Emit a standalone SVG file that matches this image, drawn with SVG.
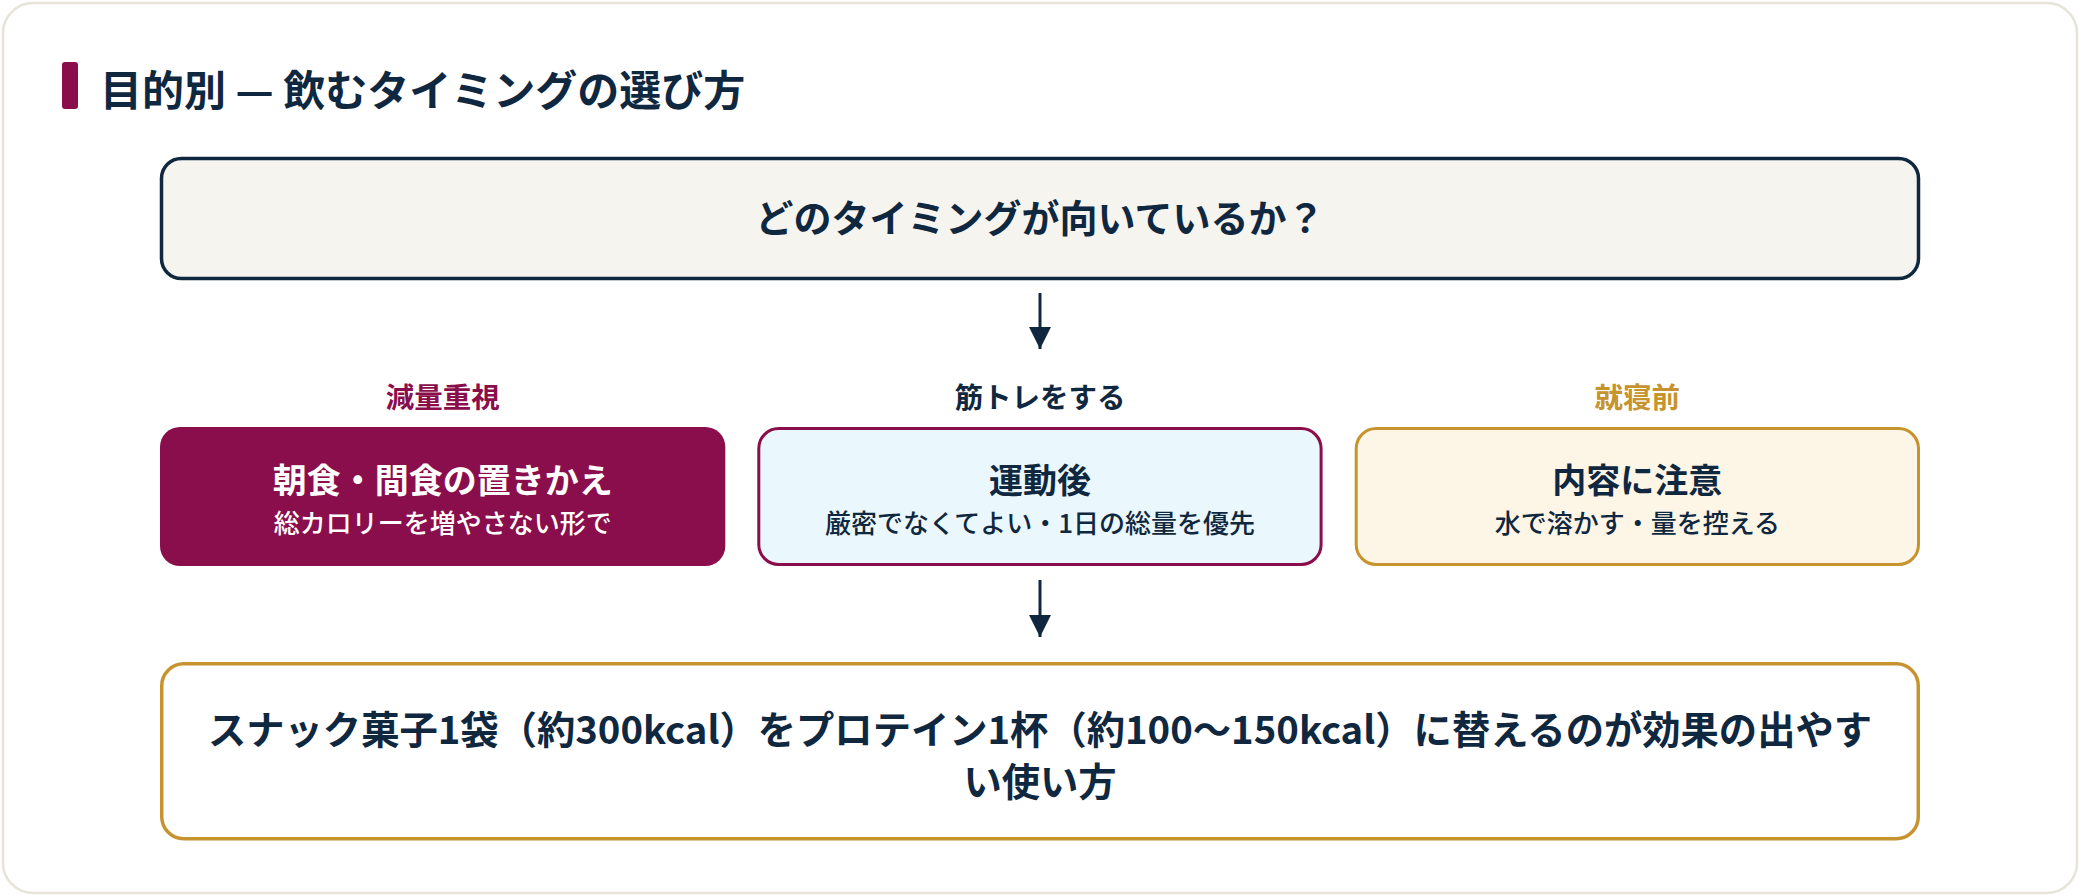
<svg xmlns="http://www.w3.org/2000/svg" width="2080" height="896" viewBox="0 0 2080 896">
<style>
text{font-family:"Noto Sans CJK JP","Noto Sans CJK SC",sans-serif;font-weight:700;text-anchor:middle}
.navy{fill:#10283f}
.title{font-size:42px;text-anchor:start}
.q{font-size:38px}
.cat{font-size:28.5px}
.nt{font-size:34px}
.ns{font-size:26px;font-weight:500}
.bt{font-size:38.3px}
.conn{stroke:#10283f;stroke-width:3;fill:none}
</style>
<defs>
<marker id="ah" viewBox="0 0 10 10" refX="10" refY="5" markerWidth="7.5" markerHeight="7.5" orient="auto" markerUnits="strokeWidth">
<path d="M0,0 L10,5 L0,10 z" fill="#10283f"/>
</marker>
</defs>
<rect x="3" y="3" width="2074" height="890" rx="30" fill="#ffffff" stroke="#e6e3d8" stroke-width="2.5"/>
<g id="title">
<rect x="62" y="62" width="16" height="47" rx="3" fill="#8a0e4b"/>
<text class="title navy" x="100" y="106">目的別 — 飲むタイミングの選び方</text>
</g>
<g id="question">
<rect x="161.5" y="158.5" width="1757" height="120" rx="20" fill="#f6f4ef" stroke="#10283f" stroke-width="3.5"/>
<text class="q navy" x="1040" y="232">どのタイミングが向いているか？</text>
</g>
<g id="connectors">
<line class="conn" x1="1040" y1="293" x2="1040" y2="349" marker-end="url(#ah)"/>
<line class="conn" x1="1040" y1="580" x2="1040" y2="637" marker-end="url(#ah)"/>
</g>
<g id="weightloss">
<text class="cat" x="442.7" y="408" fill="#8a0e4b">減量重視</text>
<rect x="160" y="427" width="565.3" height="139" rx="20" fill="#8a0e4b"/>
<text class="nt" x="442.7" y="493" fill="#ffffff">朝食・間食の置きかえ</text>
<text class="ns" x="442.7" y="533" fill="#ffffff">総カロリーを増やさない形で</text>
</g>
<g id="training">
<text class="cat navy" x="1040" y="408">筋トレをする</text>
<rect x="758.8" y="428.5" width="562.3" height="136" rx="20" fill="#eaf7fc" stroke="#8a0e4b" stroke-width="3"/>
<text class="nt navy" x="1040" y="493">運動後</text>
<text class="ns navy" x="1040" y="533">厳密でなくてよい・1日の総量を優先</text>
</g>
<g id="bedtime">
<text class="cat" x="1637.3" y="408" fill="#c6932f">就寝前</text>
<rect x="1356.2" y="428.5" width="562.3" height="136" rx="20" fill="#fdf6e7" stroke="#c6932f" stroke-width="3"/>
<text class="nt navy" x="1637.3" y="493">内容に注意</text>
<text class="ns navy" x="1637.3" y="533">水で溶かす・量を控える</text>
</g>
<g id="result">
<rect x="161.75" y="663.75" width="1756.5" height="175" rx="22" fill="#ffffff" stroke="#c6932f" stroke-width="3.5"/>
<text class="bt navy" x="1040" y="744">スナック菓子1袋（約300kcal）をプロテイン1杯（約100〜150kcal）に替えるのが効果の出やす</text>
<text class="bt navy" x="1040" y="796">い使い方</text>
</g>
</svg>
